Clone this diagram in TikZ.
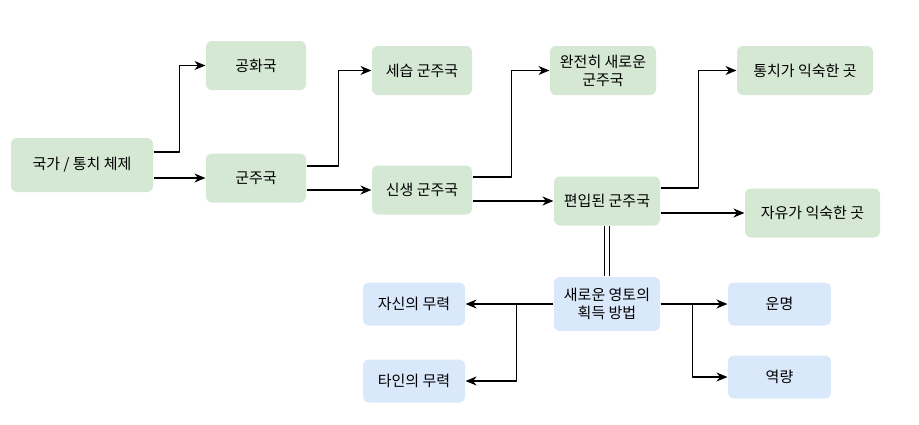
\documentclass[tikz,border=0pt]{standalone}
\usepackage{fontspec}
\setmainfont{Noto Sans CJK KR}
\usetikzlibrary{arrows.meta}
\definecolor{gfill}{HTML}{D5E8D4}
\definecolor{bfill}{HTML}{DAE8FC}
\begin{document}
\begin{tikzpicture}[x = 1pt, y = -1pt, line join = round, line width = 1.1pt,
		box/.style = {rounded corners = 6pt, align = center, inner sep = 0pt, font = \fontsize{15}{18}\selectfont},
		gbox/.style = {box, fill = gfill, minimum width = 100, minimum height = 49},
		bbox/.style = {box, fill = bfill, minimum width = 102, minimum height = 43},
		arr/.style = {-{Stealth[length = 11pt, width = 9pt, inset = 3.5pt]}}]
				\useasboundingbox (0,0) rectangle (919,424);
				\node[gbox, minimum width = 142, minimum height = 54] (state) at (82,165) {국가 / 통치 체제};
				\node[gbox] (rep) at (256,65.5) {공화국};
				\node[gbox] (mon) at (256,178) {군주국};
				\node[gbox] (her) at (422,70.5) {세습 군주국};
				\node[gbox] (new) at (422,190) {신생 군주국};
				\node[gbox, minimum width = 106] (whole) at (603,70.5) {완전히 새로운\\군주국};
				\node[gbox, minimum width = 106] (ann) at (607,201) {편입된 군주국};
				\node[gbox, minimum width = 136] (used) at (805,70.5) {통치가 익숙한 곳};
				\node[gbox, minimum width = 135] (free) at (812.5,213) {자유가 익숙한 곳};
				\node[bbox, minimum width = 106, minimum height = 54] (way) at (607,304) {새로운 영토의\\획득 방법};
				\node[bbox] (own) at (414,304) {자신의 무력};
				\node[bbox] (other) at (414,381) {타인의 무력};
				\node[bbox, minimum width = 103] (fate) at (779.5,304) {운명};
				\node[bbox, minimum width = 103] (virtue) at (779.5,377) {역량};
				\draw[arr] ([yshift = 13pt]state.east) -- ++(26,0) |- (rep.west);
				\draw[arr] ([yshift = -13pt]state.east) -- (mon.west);
				\draw[arr] ([yshift = 12pt]mon.east) -- ++(32,0) |- (her.west);
				\draw[arr] ([yshift = -12pt]mon.east) -- (new.west);
				\draw[arr] ([yshift = 13pt]new.east) -- ++(39,0) |- (whole.west);
				\draw[arr] ([yshift = -11pt]new.east) -- (ann.west);
				\draw[arr] ([yshift = 13pt]ann.east) -- ++(38,0) |- (used.west);
				\draw[arr] ([yshift = -12pt]ann.east) -- (free.west);
				\draw[double, double distance = 3.5pt] (ann.south) -- (way.north);
				\draw[arr] (way.west) -- (own.east);
				\draw[arr] (way.west) -- ++(-37,0) |- (other.east);
				\draw[arr] (way.east) -- (fate.west);
				\draw[arr] (way.east) -- ++(32,0) |- (virtue.west);
			\end{tikzpicture}
\end{document}
